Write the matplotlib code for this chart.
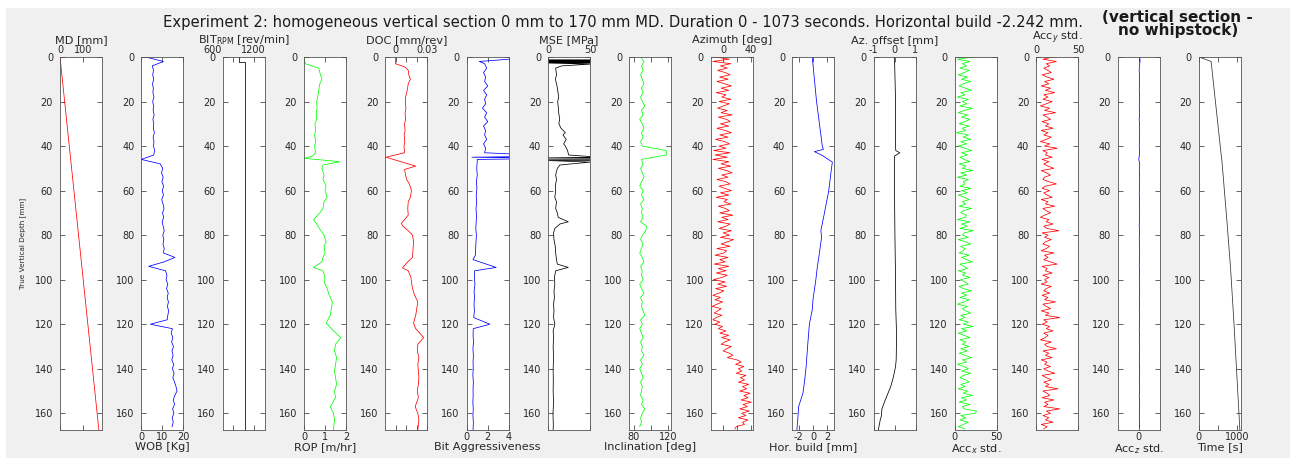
import matplotlib
matplotlib.use("Agg")
import matplotlib.pyplot as plt
from matplotlib.patches import Rectangle
import numpy as np

plt.rcParams['font.family'] = ['DejaVu Sans']

# ── data (depth in mm, TVD) ──────────────────────────────────────────────────
DEP = np.arange(0, 168, 2)          # 2 mm sampling grid
DEP1 = np.arange(0, 168, 1)         # 1 mm sampling grid (accelerometer / azimuth)

md_dep = [0, 167.5]
md = [0, 167.5]

wob = [2.0, 10.5, 5.2, 5.8, 5.4, 5.9, 5.3, 5.7, 5.5, 6.0, 5.4, 5.8, 5.6, 6.1, 5.5, 5.9,
       5.7, 6.2, 5.6, 6.0, 5.8, 6.3, 5.9,
       0.0,
       9.0, 10.2, 9.6, 10.4, 9.8, 10.6, 10.0, 10.5, 9.7, 10.3, 10.8, 10.1, 10.6, 9.9,
       10.4, 10.9, 10.2, 10.7, 10.3, 10.9, 10.5,
       16.0, 10.8, 3.5,
       11.5, 12.2, 11.8, 12.6, 12.0, 12.8, 12.3, 12.9, 12.4, 13.0, 12.6, 12.3,
       4.3,
       14.8, 14.2, 15.0, 14.4, 15.3, 14.6, 15.1, 14.5, 15.4, 14.8, 15.6, 15.0, 15.8,
       16.5, 17.0, 15.9, 15.2, 15.8, 14.9, 15.5, 14.7, 15.2, 14.6]

rpm_dep = [0, 2.2, 2.2, 167.5]
rpm = [995, 995, 1081, 1081]

rop_dep = [0, 3, 5, 8, 10, 12, 15, 18, 20, 23, 25, 28, 30, 33, 35, 38, 40, 43, 44.5, 45.5,
           47, 48.5, 50, 53, 55, 58, 60, 63, 65, 68, 70, 73, 75, 78, 80, 83, 85, 88, 90, 92,
           94.5, 96, 99, 101, 104, 107, 110, 113, 116, 119.5, 122, 126, 129, 132, 135, 138,
           141, 144, 147, 150, 153, 157, 160, 163, 167.5]
rop = [0.0, 0.05, 0.7, 0.78, 0.85, 0.75, 0.7, 0.65, 0.6, 0.62, 0.58, 0.6, 0.52, 0.55, 0.5,
       0.56, 0.5, 0.55, 0.4, 0.0, 1.7, 0.9, 0.85, 0.95, 0.9, 1.05, 1.0, 1.1, 0.95, 0.9, 0.75,
       0.45, 0.6, 0.8, 0.95, 1.05, 0.95, 1.0, 0.9, 0.85, 0.45, 0.9, 1.0, 0.95, 1.1, 1.2, 1.35,
       1.3, 1.25, 1.05, 1.3, 1.75, 1.5, 1.45, 1.55, 1.5, 1.45, 1.5, 1.55, 1.45, 1.5, 1.25,
       1.4, 1.45, 1.4]

doc_dep = [0, 3, 4.5, 6, 8, 10, 12, 15, 18, 20, 23, 25, 28, 30, 33, 35, 38, 40, 43, 45,
           49, 50.5, 53, 55, 57, 60, 63, 65, 68, 71, 74.7, 76, 78, 80, 83, 86, 90, 92, 94.7,
           96, 99, 101, 104, 107, 110, 113, 116, 119.5, 122, 126, 129, 132, 135, 138, 141,
           144, 147, 150, 153, 157, 160, 163, 167.5]
doc = [0.0, 0.0, 0.009, 0.012, 0.0125, 0.014, 0.012, 0.011, 0.0095, 0.0092, 0.0098, 0.009,
       0.0095, 0.0085, 0.009, 0.0082, 0.0088, 0.008, 0.0085, -0.009, 0.019, 0.0085, 0.0095,
       0.0105, 0.013, 0.015, 0.014, 0.012, 0.0115, 0.012, 0.0055, 0.007, 0.012, 0.016, 0.017,
       0.0165, 0.016, 0.0115, 0.0066, 0.012, 0.0145, 0.015, 0.016, 0.018, 0.021, 0.02, 0.019,
       0.017, 0.019, 0.0265, 0.021, 0.0205, 0.022, 0.021, 0.0215, 0.022, 0.0215, 0.0205,
       0.0215, 0.0185, 0.021, 0.022, 0.021]

ba_dep = [0, 1, 2, 3, 5, 7, 9, 11, 13, 15, 17, 19, 21, 23, 25, 27, 29, 31, 33, 35, 37, 39,
          41, 43, 44.5, 45, 45.5, 46, 47, 50, 53, 56, 59, 62, 65, 68, 71, 74, 77, 80, 83, 86,
          89, 91, 94.5, 96, 99, 102, 105, 108, 111, 114, 117, 120, 122, 125, 128, 131, 134,
          137, 140, 143, 146, 149, 152, 155, 158, 161, 164, 167.5]
ba = [6.0, 4.0, 1.2, 1.7, 1.9, 1.6, 1.8, 1.7, 2.0, 1.6, 1.9, 1.7, 1.8, 1.5, 1.9, 1.7, 2.0,
      1.6, 1.8, 1.7, 1.9, 1.6, 1.8, 1.7, 9.0, 0.5, 9.0, 1.0, 1.0, 0.95, 1.0, 0.92, 0.97,
      0.9, 0.95, 0.88, 0.93, 0.9, 0.86, 0.92, 0.88, 0.85, 0.82, 0.6, 2.8, 0.75, 0.72, 0.78,
      0.7, 0.74, 0.69, 0.73, 0.66, 2.2, 0.62, 0.6, 0.64, 0.59, 0.63, 0.6, 0.62, 0.58, 0.63,
      0.6, 0.61, 0.58, 0.62, 0.59, 0.63, 0.6]

mse_dep = [0, 1.3, 1.4, 1.5, 1.6, 1.7, 1.8, 1.9, 2.0, 2.1, 2.2, 2.3, 2.4, 2.5, 2.6, 2.7,
           3.2, 4, 5, 8, 10, 13, 15, 18, 20, 23, 25, 28, 30, 32, 34, 35, 37, 39, 40, 42, 44,
           45, 45.3, 45.6, 45.9, 46.2, 46.5, 47.2, 48.5, 50, 53, 55, 58, 60, 63, 65, 68, 70,
           72, 74, 75, 77, 79, 82, 85, 88, 91, 93, 94.5, 96, 99, 102, 105, 108, 111, 114, 117,
           120, 123, 126, 130, 135, 140, 145, 150, 155, 160, 165, 167.5]
mse = [0, 0, 400, 0, 400, 0, 400, 0, 400, 0, 400, 0, 400, 0, 400, 0,
       50, 16, 9, 10, 8.7, 10.6, 11.4, 12.6, 11.4, 12.2, 12.6, 13.8, 12.8, 15.4, 20.5, 17.7,
       21.6, 18.5, 20.5, 23.2, 24.4,
       60, 0, 400, 0, 400, 0, 50, 14, 11, 9, 10, 8.5, 9, 8, 10, 9, 11,
       12, 24, 14, 8, 6.5, 7, 8.5, 9, 10, 11, 24, 9, 7.5, 8, 7, 7.5, 6.5, 7, 6.5,
       8, 6, 6.5, 6, 6.5, 6, 6.2, 6, 6.5, 5.8, 6.2, 6]

incl = [88, 92, 89, 91, 88, 90, 92, 89, 91, 88, 90, 93, 89, 91, 87, 90, 92, 89, 91, 88,
        90, 118, 118, 89, 91, 88, 90, 92, 89, 87, 91, 89, 92, 88, 90, 89, 91, 88, 95, 94,
        90, 88, 91, 89, 87, 90, 92, 88, 90, 89, 91, 87, 89, 92, 88, 90, 89, 91, 93, 88,
        90, 87, 89, 91, 88, 90, 89, 92, 88, 90, 87, 89, 91, 88, 90, 89, 88, 91, 89, 93,
        90, 88, 89, 87]

azim = [-12, 9, -15, 11, -4, 6, -8, 3, 10, -5, 7, -9,
        2, 12, -3, 8, -10, 4, -2, 11, -6, 9, 0, -8,
        6, -3, 13, -7, 5, 10, -4, 8, -9, 3, 12, -5,
        7, -11, 2, 9, -6, 4, -14, 10, -12, 6, -15, 8,
        -3, 11, -7, 5, 13, -2, 7, -9, 4, 10, -6, 2,
        12, -4, 8, -10, 6, 1, 11, -7, 3, 9, -5, 14,
        -2, 7, -8, 10, 4, -6, 12, 0, 9, -4, 15, 6,
        -3, 10, -9, 5, 1, -12, 7, -5, 3, -13, 8, -7,
        4, -10, 6, -2, -14, 3, -8, 5, -11, 1, -6, -15,
        -4, -12, -1, -9, -16, -3, -8, -13, -2, -10, -15, -5,
        -12, -1, -7, 4, -5, 8, -2, 10, 2, -3, 12, 5,
        0, 9, 14, 6, 20, 26, 18, 30, 22, 27, 19, 33,
        25, 31, 22, 37, 28, 34, 24, 39, 30, 36, 26, 41,
        29, 35, 24, 38, 27, 33, 22, 36, 28, 31, 19, 17]

hb_dep = [0, 10, 20, 30, 40, 41.5, 42.5, 44.2, 47.2, 52, 60, 70, 78, 81, 88, 94.5, 100,
          109, 113.5, 120, 130, 139, 145, 151, 157, 162, 167.5]
hb = [-0.1, 0.2, 0.5, 0.9, 1.3, 1.45, 0.2, 1.3, 2.7, 2.5, 2.2, 1.6, 1.1, 1.2, 0.9, 0.6,
      0.4, 0.0, -0.1, -0.5, -0.75, -0.95, -1.15, -1.4, -2.0, -2.1, -2.242]

ao_dep = [0, 20, 40, 42, 43, 44.5, 46, 60, 80, 100, 113, 125, 136, 139, 144, 148, 151,
          155, 158, 161, 163, 167.5]
ao = [0.0, 0.05, 0.05, 0.06, 0.25, 0.0, 0.0, 0.0, 0.02, 0.05, 0.06, 0.1, 0.08, 0.05, -0.06,
      -0.18, -0.31, -0.48, -0.6, -0.62, -0.68, -0.77]

accx = [22, 3, 18, 9, 14, 6, 17, 11, 4, 15, 8, 19,
        10, 5, 13, 20, 7, 12, 3, 16, 9, 14, 6, 21,
        11, 4, 15, 8, 18, 12, 5, 17, 9, 13, 2, 16,
        10, 19, 7, 14, 4, 12, 20, 8, 15, 6, 11, 18,
        5, 13, 9, 21, 7, 14, 3, 16, 10, 12, 6, 19,
        8, 15, 4, 11, 17, 9, 13, 5, 20, 10, 7, 14,
        12, 3, 18, 8, 15, 6, 22, 11, 9, 16, 4, 13,
        19, 7, 12, 10, 5, 17, 8, 14, 21, 6, 11, 15,
        4, 13, 9, 18, 7, 12, 16, 5, 10, 20, 8, 14,
        6, 17, 11, 3, 15, 9, 13, 19, 7, 12, 5, 16,
        10, 22, 8, 14, 4, 11, 18, 6, 13, 9, 17, 7,
        15, 5, 12, 20, 9, 14, 3, 11, 16, 8, 19, 10,
        6, 13, 17, 7, 12, 4, 15, 10, 21, 8, 14, 5,
        18, 9, 11, 26, 24, 7, 13, 6, 16, 10, 4, 12]

accy = [20, 8, 24, 12, 16, 9, 14, 18, 7, 13, 21, 10,
        15, 6, 17, 11, 22, 9, 14, 8, 19, 12, 5, 16,
        10, 23, 8, 13, 17, 7, 15, 11, 20, 6, 14, 9,
        18, 12, 5, 16, 10, 25, 8, 13, 11, 19, 7, 15,
        9, 14, 21, 6, 12, 17, 10, 8, 15, 24, 11, 7,
        16, 9, 13, 19, 6, 14, 11, 22, 8, 12, 17, 10,
        5, 15, 12, 20, 9, 13, 27, 7, 14, 10, 18, 11,
        8, 16, 12, 6, 21, 10, 14, 9, 17, 25, 7, 13,
        11, 19, 8, 15, 10, 13, 6, 18, 12, 9, 16, 7,
        14, 10, 23, 8, 12, 17, 6, 15, 11, 28, 9, 13,
        7, 16, 12, 20, 9, 14, 11, 5, 18, 10, 13, 24,
        8, 15, 11, 19, 6, 13, 10, 17, 9, 14, 22, 7,
        12, 18, 9, 15, 11, 26, 8, 13, 16, 7, 21, 10,
        14, 9, 28, 12, 17, 8, 15, 11, 20, 6, 13, 9]

accz = [3, 3.5, 2, 1.5, 2.2, 1.8, 2.5, 1.6, 2.1, 1.9, 2.4, 1.7, 2.0, 2.3, 1.5, 2.2, 1.8, 2.6,
        1.9, 2.1, 1.6, 2.4, 2.0, 0.5, 2.8, 1.7, 2.2, 1.9, 2.5, 1.8, 2.1, 1.6, 2.3, 2.0, 1.8,
        2.6, 1.9, 2.2, 1.5, 2.4, 2.0, 1.7, 2.3, 1.9, 2.5, 1.8, 2.1, 1.6, 2.4, 2.0, 1.8, 2.2,
        1.9, 2.6, 1.7, 2.3, 2.0, 1.8, 2.5, 1.9, 2.2, 1.6, 2.4, 2.0, 1.8, 2.3, 1.9, 2.6, 1.7,
        2.1, 2.0, 2.4, 1.8, 2.2, 1.9, 2.5, 1.7, 2.1, 2.3, 1.9, 2.0, 1.8, 2.2, 2.0]

time_dep = [0, 2, 45, 46, 75, 95, 120, 167.5]
time_s = [0, 320, 590, 600, 740, 830, 920, 1073]

RED, BLUE, GREEN, BLACK = "#ff0000", "#0000ff", "#00ff00", "#000000"

# (x, y, colour, xlim, xticks, xticklabels, xlabel, label on top)
panels = [
    (md, md_dep, RED, (0, 181), [0, 100], ["0", "100"], "MD [mm]", True),
    (wob, DEP, BLUE, (0, 20), [0, 10, 20], ["0", "10", "20"], "WOB [Kg]", False),
    (rpm, rpm_dep, BLACK, (753, 1360), [900, 1200], ["", "1200"],
     r"BIT$_{\rm RPM}$ [rev/min]", True),
    (rop, rop_dep, GREEN, (0, 2), [0, 1, 2], ["0", "1", "2"], "ROP [m/hr]", False),
    (doc, doc_dep, RED, (-0.0095, 0.03), [0, 0.01, 0.02, 0.03], ["0", "", "", "0.03"],
     "DOC [mm/rev]", True),
    (ba, ba_dep, BLUE, (0, 4), [0, 2, 4], ["0", "2", "4"], "Bit Aggressiveness", False),
    (mse, mse_dep, BLACK, (0, 50), [0, 50], ["0", "50"], "MSE [MPa]", True),
    (incl, DEP, GREEN, (75, 124), [80, 100, 120], ["80", "", "120"], "Inclination [deg]", False),
    (azim, DEP1, RED, (-18, 43), [0, 20, 40], ["0", "", "40"], "Azimuth [deg]", True),
    (hb, hb_dep, BLUE, (-2.9, 2.95), [-2, 0, 2], ["-2", "0", "2"], "Hor. build [mm]", False),
    (ao, ao_dep, BLACK, (-1, 1), [-1, 0, 1], ["-1", "0", "1"], "Az. offset [mm]", True),
    (accx, DEP1, GREEN, (0, 50), [0, 50], ["0", "50"], r"Acc$_x$ std.", False),
    (accy, DEP1, RED, (0, 50), [0, 50], ["0", "50"], r"Acc$_y$ std.", True),
    (accz, DEP, BLUE, (-50, 50), [0], ["0"], r"Acc$_z$ std.", False),
    (time_s, time_dep, "#333333", (0, 1100), [0, 500, 1000], ["0", "", "1000"], "Time [s]", False),
]

W, H = 1290, 459
fig = plt.figure(figsize=(W / 100, H / 100), dpi=100, facecolor="white")
fig.patches.append(Rectangle((6 / W, 1 / H), 1284 / W, 450 / H, transform=fig.transFigure,
                             facecolor="#f0f0f0", edgecolor="none", zorder=-10))

AX_COL = "#262626"
for i, (x, y, col, xlim, xt, xtl, xlab, top) in enumerate(panels):
    ax = fig.add_axes([(60 + i * 81.35) / W, 29 / H, 42 / W, 373 / H])
    ax.plot(x, y, color=col, lw=0.55)
    ax.set_xlim(*xlim)
    ax.set_ylim(167.5, 0)
    ax.set_yticks(range(0, 161, 20))
    ax.set_xticks(xt)
    ax.set_xticklabels(xtl)
    ax.tick_params(direction="in", length=3.5, width=0.5, colors=AX_COL, labelsize=7,
                   left=True, right=True, top=True, bottom=True,
                   labeltop=top, labelbottom=not top)
    ax.tick_params(axis="y", pad=5)
    ax.tick_params(axis="x", pad=1.5)
    ax.xaxis.set_label_position("top" if top else "bottom")
    pad = 0
    if top:
        pad = 3.5 if "_y" in xlab else 1.5
    ax.set_xlabel(xlab, fontsize=8.1, color=AX_COL, labelpad=pad)
    for s in ax.spines.values():
        s.set_color("#555555")
        s.set_linewidth(0.6)
    if i == 2:
        # the "600" label sits left of the visible range
        ax.annotate("600", xy=(600, 1), xycoords=ax.get_xaxis_transform(),
                    xytext=(0, 1.5), textcoords="offset points", ha="center", va="bottom",
                    fontsize=7, color=AX_COL, annotation_clip=False)

fig.text(23 / W, 1 - 243.5 / H, "True Vertical Depth [mm]", rotation=90, ha="center",
         va="center", fontsize=5.2, color=AX_COL,
         family=["DejaVu Sans Condensed", "Liberation Sans Narrow", "DejaVu Sans"])

fig.text(623 / W, 1 - 23 / H,
         "Experiment 2: homogeneous vertical section 0 mm to 170 mm MD. "
         "Duration 0 - 1073 seconds. Horizontal build -2.242 mm.",
         ha="center", va="center", fontsize=10.6, color="#1a1a1a")
fig.text(0.913, 1 - 24 / H, "(vertical section -\nno whipstock)", ha="center", va="center",
         fontsize=11, fontweight="bold", color="#1a1a1a", linespacing=0.9)

fig.savefig("out.png", dpi=100, facecolor=fig.get_facecolor())
